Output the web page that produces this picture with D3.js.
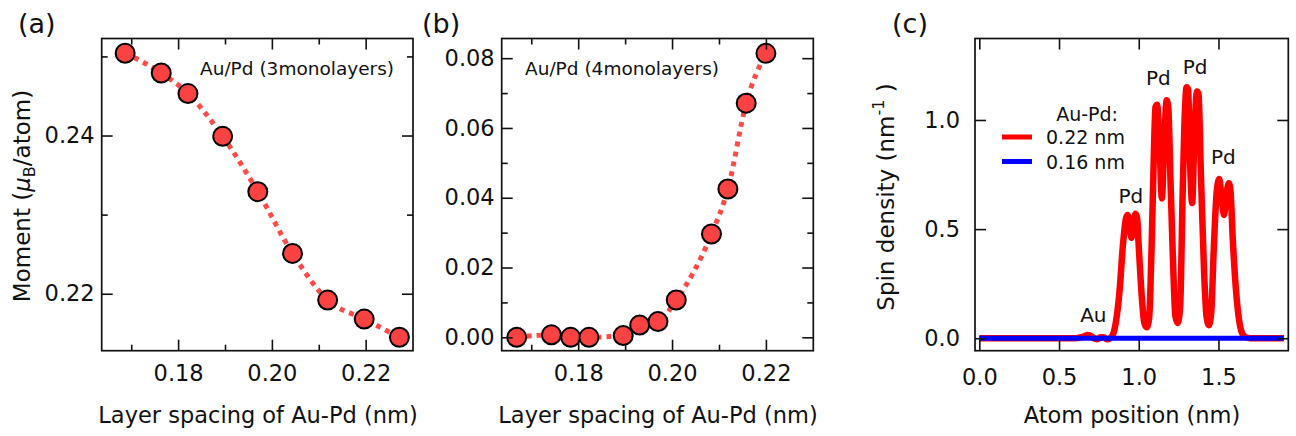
<!DOCTYPE html>
<html>
<head>
<meta charset="utf-8">
<script src="https://cdn.jsdelivr.net/npm/d3@7"></script>
<style>
  body { margin: 0; background: #fff; }
  svg text { font-family: "DejaVu Sans", sans-serif; fill: #111; }
</style>
</head>
<body>
<div id="mainDiv"></div>
<script>
// panel (a): 3 monolayers
var spacingA = [0.1687, 0.1764, 0.1821, 0.1895, 0.1970, 0.2044, 0.2119, 0.2197, 0.2272];
var momentA  = [0.2504, 0.2479, 0.2453, 0.2399, 0.2329, 0.2251, 0.2192, 0.2168, 0.2145];
// panel (b): 4 monolayers
var spacingB = [0.1669, 0.1743, 0.1784, 0.1823, 0.1896, 0.1931, 0.1970, 0.2009, 0.2084, 0.2119, 0.2158, 0.2200];
var momentB  = [0.0000, 0.0007, 0.0000, 0.0000, 0.0005, 0.0035, 0.0045, 0.0107, 0.0296, 0.0425, 0.0671, 0.0814];
// panel (c): spin density profiles
var atomPos = [0.00, 0.60, 0.64, 0.66, 0.68, 0.70, 0.72, 0.74, 0.76, 0.78, 0.80, 0.82, 0.84, 0.86, 0.88, 0.90,
               0.92, 0.93, 0.945, 0.955, 0.965, 0.98, 0.99, 1.00, 1.02, 1.035, 1.05, 1.065, 1.08, 1.095, 1.105,
               1.115, 1.13, 1.145, 1.16, 1.175, 1.185, 1.20, 1.215, 1.23, 1.245, 1.26, 1.275, 1.29, 1.30, 1.31,
               1.32, 1.335, 1.35, 1.365, 1.375, 1.39, 1.41, 1.425, 1.44, 1.455, 1.47, 1.49, 1.505, 1.52, 1.535,
               1.55, 1.565, 1.575, 1.59, 1.61, 1.63, 1.65, 1.67, 1.70, 1.91];
var spin022 = [0, 0, 0.005, 0.01, 0.015, 0.01, 0.0, -0.005, 0.005, 0.005, -0.005, 0.0, 0.02, 0.09, 0.22, 0.42,
               0.55, 0.565, 0.50, 0.46, 0.52, 0.57, 0.55, 0.42, 0.18, 0.07, 0.05, 0.09, 0.40, 0.85, 1.06,
               1.07, 0.90, 0.64, 0.90, 1.09, 1.06, 0.70, 0.35, 0.10, 0.07, 0.15, 0.65, 1.05, 1.15, 1.14,
               0.85, 0.62, 0.95, 1.13, 1.12, 0.75, 0.30, 0.10, 0.06, 0.12, 0.40, 0.68, 0.73, 0.64, 0.565,
               0.66, 0.71, 0.68, 0.45, 0.22, 0.08, 0.02, 0.005, 0, 0];
var atomPos016 = [0.00, 1.91];
var spin016 = [0, 0];
var peakLabels = ["Au", "Pd", "Pd", "Pd", "Pd"];
var peakX = [0.715, 0.95, 1.123, 1.353, 1.531];
var peakY = [0.075, 0.62, 1.16, 1.21, 0.80];

var mySvg = d3.select("#mainDiv").append("svg")
    .attr("width", 1296)
    .attr("height", 436);

var plotTop = 38.5, plotBottom = 350.7;
var red = "#ff0000", blue = "#0000ff", dotRed = "#ff4a4a", markRed = "#fb4242";

function frame(x0, x1) {
    mySvg.append("rect")
        .attr("x", x0).attr("y", plotTop)
        .attr("width", x1 - x0).attr("height", plotBottom - plotTop)
        .attr("fill", "none").attr("stroke", "#111").attr("stroke-width", 1.7);
}

function ticks(xs, ys, xMajor, xMinor, yMajor, yMinor, xFmt, yFmt, xPad, yPad) {
    var g = mySvg.append("g");
    g.append("g").attr("transform", "translate(0," + plotBottom + ")")
        .call(d3.axisBottom(xs).tickValues(xMajor).tickFormat(xFmt).tickSize(-11).tickPadding(xPad));
    g.append("g").attr("transform", "translate(0," + plotTop + ")")
        .call(d3.axisTop(xs).tickValues(xMajor).tickFormat("").tickSize(-11));
    g.append("g").attr("transform", "translate(" + xs.range()[0] + ",0)")
        .call(d3.axisLeft(ys).tickValues(yMajor).tickFormat(yFmt).tickSize(-11).tickPadding(yPad));
    g.append("g").attr("transform", "translate(" + xs.range()[1] + ",0)")
        .call(d3.axisRight(ys).tickValues(yMajor).tickFormat("").tickSize(-11));
    if (xMinor.length) {
        g.append("g").attr("transform", "translate(0," + plotBottom + ")")
            .call(d3.axisBottom(xs).tickValues(xMinor).tickFormat("").tickSize(-6));
        g.append("g").attr("transform", "translate(0," + plotTop + ")")
            .call(d3.axisTop(xs).tickValues(xMinor).tickFormat("").tickSize(-6));
    }
    if (yMinor.length) {
        g.append("g").attr("transform", "translate(" + xs.range()[0] + ",0)")
            .call(d3.axisLeft(ys).tickValues(yMinor).tickFormat("").tickSize(-6));
        g.append("g").attr("transform", "translate(" + xs.range()[1] + ",0)")
            .call(d3.axisRight(ys).tickValues(yMinor).tickFormat("").tickSize(-6));
    }
    g.selectAll(".domain").remove();
    g.selectAll(".tick line").attr("stroke", "#111").attr("stroke-width", 1.6);
    g.selectAll(".tick text").style("font-family", "DejaVu Sans, sans-serif")
        .style("font-size", "22.5px").attr("fill", "#111");
}

function dotted(xs, ys, xv, yv) {
    var line = d3.line()
        .x(function (d, i) { return xs(xv[i]); })
        .y(function (d, i) { return ys(yv[i]); })
        .curve(d3.curveMonotoneX);
    mySvg.append("path")
        .attr("d", line(xv))
        .attr("fill", "none")
        .attr("stroke", dotRed)
        .attr("stroke-width", 5)
        .attr("stroke-dasharray", "5,5");
    mySvg.append("g").selectAll("circle")
        .data(xv)
        .enter().append("circle")
        .attr("cx", function (d) { return xs(d); })
        .attr("cy", function (d, i) { return ys(yv[i]); })
        .attr("r", 9.5)
        .attr("fill", markRed)
        .attr("stroke", "#000")
        .attr("stroke-width", 2);
}

function xTitle(cx, txt) {
    mySvg.append("text").text(txt)
        .attr("x", cx).attr("y", 423)
        .attr("text-anchor", "middle")
        .style("font-size", "22.5px");
}

function panelLabel(x, txt) {
    mySvg.append("text").text(txt)
        .attr("x", x).attr("y", 33)
        .style("font-size", "27px");
}

// ---------- (a)
var xA = d3.scaleLinear().domain([0.1637, 0.2301]).range([101.7, 413]);
var yA = d3.scaleLinear().domain([0.2128, 0.2522]).range([350.7, 39]);
dotted(xA, yA, spacingA, momentA);
frame(101.7, 413);
ticks(xA, yA, [0.18, 0.20, 0.22], [0.17, 0.19, 0.21], [0.22, 0.24], [0.23, 0.25],
      d3.format(".2f"), d3.format(".2f"), 14, 7);
panelLabel(18, "(a)");
xTitle(258, "Layer spacing of Au-Pd (nm)");
mySvg.append("text").text("Au/Pd (3monolayers)")
    .attr("x", 200).attr("y", 75).style("font-size", "18.5px");
var ytA = mySvg.append("text")
    .attr("transform", "translate(30,196) rotate(-90)")
    .attr("text-anchor", "middle")
    .style("font-size", "23px");
ytA.append("tspan").text("Moment (");
ytA.append("tspan").text("μ").style("font-style", "italic");
ytA.append("tspan").text("B").attr("dy", 5).style("font-size", "16px");
ytA.append("tspan").text("/atom)").attr("dy", -5);

// ---------- (b)
var xB = d3.scaleLinear().domain([0.1637, 0.2301]).range([501.7, 813.3]);
var yB = d3.scaleLinear().domain([-0.00384, 0.0855]).range([350.7, 39]);
dotted(xB, yB, spacingB, momentB);
frame(501.7, 813.3);
ticks(xB, yB, [0.18, 0.20, 0.22], [0.17, 0.19, 0.21],
      [0, 0.02, 0.04, 0.06, 0.08], [0.01, 0.03, 0.05, 0.07],
      d3.format(".2f"), d3.format(".2f"), 14, 7);
panelLabel(422, "(b)");
xTitle(658, "Layer spacing of Au-Pd (nm)");
mySvg.append("text").text("Au/Pd (4monolayers)")
    .attr("x", 525).attr("y", 75).style("font-size", "18.5px");

// ---------- (c)
var xC = d3.scaleLinear().domain([-0.027, 1.938]).range([975, 1288.3]);
var yC = d3.scaleLinear().domain([-0.057, 1.371]).range([350.7, 39]);
var profile = d3.line()
    .x(function (d, i) { return xC(d); })
    .curve(d3.curveMonotoneX);
mySvg.append("path")
    .attr("d", profile.y(function (d, i) { return yC(spin022[i]); })(atomPos))
    .attr("fill", "none").attr("stroke", red).attr("stroke-width", 6.5)
    .attr("stroke-linejoin", "round");
mySvg.append("path")
    .attr("d", profile.y(function (d, i) { return yC(spin016[i]); })(atomPos016))
    .attr("fill", "none").attr("stroke", blue).attr("stroke-width", 5);
frame(975, 1288.3);
ticks(xC, yC, [0, 0.5, 1.0, 1.5], [], [0, 0.5, 1.0], [],
      d3.format(".1f"), d3.format(".1f"), 18, 15);
panelLabel(892, "(c)");
xTitle(1132, "Atom position (nm)");
var ytC = mySvg.append("text")
    .attr("transform", "translate(894,197) rotate(-90)")
    .attr("text-anchor", "middle")
    .style("font-size", "23px");
ytC.append("tspan").text("Spin density (nm");
ytC.append("tspan").text("-1").attr("dy", -10).style("font-size", "16px");
ytC.append("tspan").text(" )").attr("dy", 10);

mySvg.append("g").selectAll("text")
    .data(peakLabels)
    .enter().append("text")
    .text(function (d) { return d; })
    .attr("x", function (d, i) { return xC(peakX[i]); })
    .attr("y", function (d, i) { return yC(peakY[i]); })
    .attr("text-anchor", "middle")
    .style("font-size", "20px");

// legend
var legend = mySvg.append("g");
legend.append("text").text("Au-Pd:")
    .attr("x", 1118).attr("y", 121).attr("text-anchor", "end").style("font-size", "19px");
var legNames = ["0.22 nm", "0.16 nm"], legColors = [red, blue];
legNames.forEach(function (n, i) {
    legend.append("line")
        .attr("x1", 1002).attr("x2", 1032)
        .attr("y1", 137 + i * 24.5).attr("y2", 137 + i * 24.5)
        .attr("stroke", legColors[i]).attr("stroke-width", 5);
    legend.append("text").text(n)
        .attr("x", 1046).attr("y", 144 + i * 24.5).style("font-size", "19px");
});
</script>
</body>
</html>
